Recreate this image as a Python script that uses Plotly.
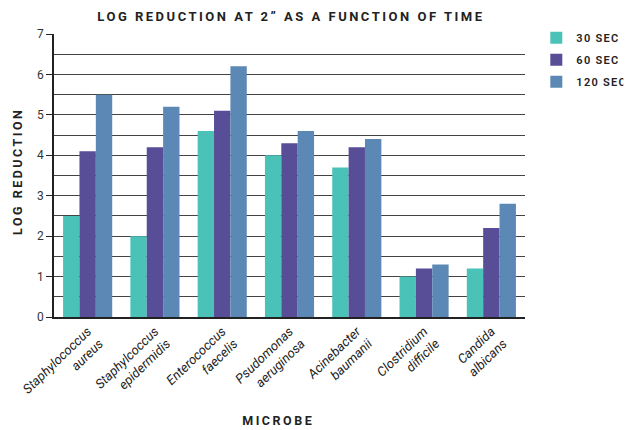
import plotly.graph_objects as go

categories = ["Staphylococcus<br>aureus", "Staphylcoccus<br>epidermidis", "Enterococcus<br>faecelis",
              "Psudomonas<br>aeruginosa", "Acinebacter<br>baumanii", "Clostridium<br>difficile",
              "Candida<br>albicans"]
series_names = ["30 SEC", "60 SEC", "120 SEC"]
sec30 = [2.5, 2.0, 4.6, 4.0, 3.7, 1.0, 1.2]
sec60 = [4.1, 4.2, 5.1, 4.3, 4.2, 1.2, 2.2]
sec120 = [5.5, 5.2, 6.2, 4.6, 4.4, 1.3, 2.8]
colors = ["#4BC2B8", "#574E97", "#5B88B5"]

fig = go.Figure()
for name, vals, c in zip(series_names, [sec30, sec60, sec120], colors):
    fig.add_trace(go.Bar(x=categories, y=vals, name=name, legendgroup=name,
                         marker=dict(color=c, line=dict(width=0))))

font_family = "Roboto, 'DejaVu Sans', sans-serif"
fig.update_layout(
    width=631, height=430,
    margin=dict(l=54, r=106, t=34, b=113, autoexpand=False),
    paper_bgcolor="white", plot_bgcolor="white",
    barmode="group", bargap=0.27, bargroupgap=0,
    font=dict(family=font_family, color="#222", size=12),
    title=dict(text="<b>LOG REDUCTION AT 2\u201D AS A FUNCTION OF TIME</b>", x=0.461, xanchor="center",
               y=0.962, yanchor="middle", font=dict(size=13, color="#222")),
    legend=dict(x=1.024, y=1.038, xanchor="left", yanchor="top",
                font=dict(size=11, color="#222", weight=600),
                itemwidth=30, tracegroupgap=3, traceorder="grouped", bgcolor="rgba(0,0,0,0)"),
    showlegend=True,
    annotations=[
        dict(text="<b>MICROBE</b>", x=0.4756, y=-0.365, xref="paper", yref="paper",
             xanchor="center", yanchor="middle", showarrow=False, font=dict(size=12.5, color="#222")),
        dict(text="<b>LOG REDUCTION</b>", x=-0.077, y=0.516, xref="paper", yref="paper",
             xanchor="center", yanchor="middle", textangle=-90, showarrow=False,
             font=dict(size=12.5, color="#222")),
    ],
)
fig.update_xaxes(
    tickangle=-44, tickfont=dict(size=13, style="italic", color="#222"),
    showline=True, linecolor="#222", linewidth=1.5, ticks="",
    range=[-0.5, 6.5], automargin=False,
)
fig.update_yaxes(
    range=[0, 7], dtick=1, tick0=0, ticks="outside", ticklen=6, tickcolor="#222", tickwidth=1.2,
    showgrid=True, gridcolor="#444", gridwidth=1.2,
    minor=dict(dtick=0.5, showgrid=True, gridcolor="#444", gridwidth=1.2),
    showline=True, linecolor="#222", linewidth=1.5,
    tickfont=dict(size=12, color="#333"),
    zeroline=False, automargin=False,
)

post = """
document.body.style.margin = '0';
document.documentElement.style.margin = '0';
document.querySelectorAll('.gtitle, .annotation-text').forEach(function(e){ e.style.letterSpacing = '2.5px'; });
document.querySelectorAll('.legendtext').forEach(function(e){ e.style.letterSpacing = '1.3px'; });
"""
fig.write_html("out.html", post_script=post, config={"displayModeBar": False})
